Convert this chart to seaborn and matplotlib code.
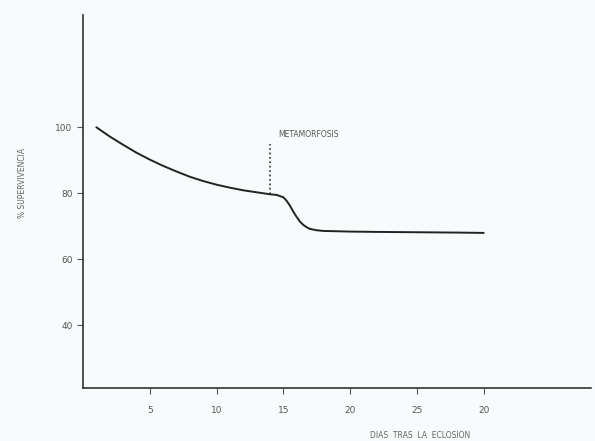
import pandas as pd
import seaborn as sns
import matplotlib.pyplot as plt

# Supervivencia frente a días tras la eclosión
dias = [1, 2, 3, 4, 5, 6, 7, 8, 9, 10, 11, 12, 13, 14, 14.5, 15, 15.25, 15.5, 15.75, 16, 16.25, 16.5, 16.75, 17, 17.5, 18, 20, 22, 25, 28, 30]
supervivencia = [100, 97.2, 94.7, 92.3, 90.2, 88.3, 86.6, 85.0, 83.7, 82.6, 81.7, 80.9, 80.3, 79.7, 79.5, 78.8, 77.7, 76.2, 74.4, 72.8, 71.4, 70.4, 69.7, 69.2, 68.8, 68.6, 68.4, 68.3, 68.2, 68.1, 68.0]
x_ticks = [5, 10, 15, 20, 25, 30]
x_tick_labels = ['5', '10', '15', '20', '25', '20']
y_ticks = [40, 60, 80, 100]
dia_metamorfosis = 14

df = pd.DataFrame({'Dias': dias, 'Supervivencia': supervivencia})

sns.set_style('ticks')
plt.rcParams['font.family'] = ['DejaVu Sans']

fondo = '#f8fbfb'
fig = plt.figure(figsize=(5.95, 4.41), dpi=100, facecolor=fondo)
ax = fig.add_axes([0.1395, 0.12, 0.853, 0.846])
ax.set_facecolor(fondo)

sns.lineplot(x='Dias', y='Supervivencia', data=df, color='#222222', linewidth=1.4, ax=ax)

# Línea punteada de la metamorfosis
ax.plot([dia_metamorfosis, dia_metamorfosis], [79.7, 95], color='#333333', linestyle=':', linewidth=1.2)
ax.text(14.6, 96.5, 'METAMORFOSIS', fontsize=5.5, color='#555555', va='bottom')

ax.set_xlim(0, 38)
ax.set_ylim(21, 134)
ax.set_xticks(x_ticks)
ax.set_xticklabels(x_tick_labels)
ax.set_yticks(y_ticks)
ax.tick_params(axis='both', labelsize=6.5, colors='#555555', length=4, width=0.8, direction='out')
ax.tick_params(axis='x', pad=9)

for side in ['top', 'right']:
    ax.spines[side].set_visible(False)
for side in ['left', 'bottom']:
    ax.spines[side].set_color('#333333')
    ax.spines[side].set_linewidth(1.2)

ax.set_ylabel('% SUPERVIVENCIA', fontsize=5.5, color='#666666')
ax.yaxis.set_label_coords(-0.11, 0.55)
ax.set_xlabel('DIAS  TRAS  LA  ECLOSION', fontsize=5.5, color='#666666')
ax.xaxis.set_label_coords(0.665, -0.115)

fig.savefig('out.png', dpi=100, facecolor=fondo)
